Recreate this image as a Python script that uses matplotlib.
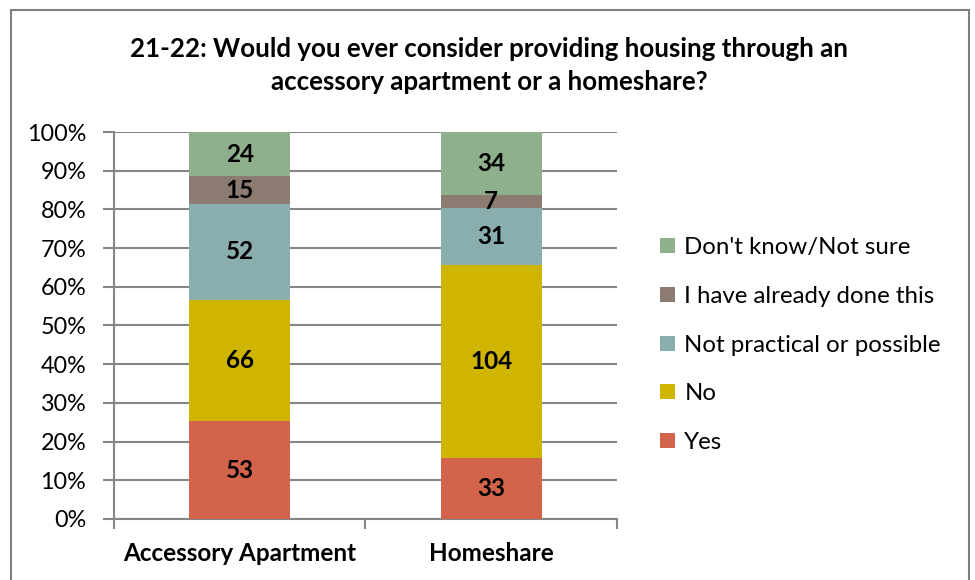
import matplotlib.pyplot as plt
from matplotlib.patches import Rectangle
import numpy as np

plt.rcParams['font.family'] = ['Lato', 'DejaVu Sans']

# survey counts per answer
categories = ['Accessory Apartment', 'Homeshare']
answers = ['Yes', 'No', 'Not practical or possible', 'I have already done this', "Don't know/Not sure"]
yes = [53, 33]
no = [66, 104]
not_practical = [52, 31]
already_done = [15, 7]
dont_know = [24, 34]
colors = ['#D3634A', '#CFB500', '#8AADAE', '#8C7B70', '#8FB08C']

series = np.array([yes, no, not_practical, already_done, dont_know], dtype=float)
totals = series.sum(axis=0)
shares = series / totals

fig = plt.figure(figsize=(9.75, 5.8), dpi=100)
# outer chart frame
fig.patches.append(Rectangle((0.011, -0.05), 0.983, 1.033, transform=fig.transFigure,
                             fill=False, edgecolor='#7f7f7f', linewidth=1.5))
ax = fig.add_axes([0.1169, 0.1052, 0.5159, 0.6672])

x = np.arange(len(categories))
bottom = np.zeros(len(categories))
bars = []
for i, name in enumerate(answers):
    b = ax.bar(x, shares[i], 0.4, bottom=bottom, color=colors[i], label=name, zorder=3)
    bars.append(b)
    for j in range(len(categories)):
        ax.text(x[j], bottom[j] + shares[i][j] / 2, '%d' % series[i][j], ha='center', va='center',
                fontsize=17.5, fontweight='bold', color='black', zorder=4)
    bottom += shares[i]

ax.set_xlim(-0.5, 1.5)
ax.set_ylim(0, 1)
ax.set_yticks(np.arange(0, 1.01, 0.1))
ax.set_yticklabels(['%d%%' % v for v in range(0, 101, 10)], fontsize=16.8)
ax.yaxis.grid(True, color='#868686', linewidth=1.5, zorder=0)
ax.tick_params(axis='y', length=8, width=1.5, color='#868686', pad=12)

# category ticks sit between the bars
ax.set_xticks([-0.5, 0.5, 1.5])
ax.set_xticklabels([])
ax.tick_params(axis='x', length=7, width=1.5, color='#868686', direction='out')
for j, c in enumerate(categories):
    ax.text(x[j], -0.09, c, ha='center', va='center', fontsize=17.5, fontweight='bold',
            transform=ax.transData)

for s in ['top', 'right']:
    ax.spines[s].set_visible(False)
for s in ['left', 'bottom']:
    ax.spines[s].set_color('#868686')
    ax.spines[s].set_linewidth(1.5)

fig.text(0.502, 0.887, '21-22: Would you ever consider providing housing through an\naccessory apartment or a homeshare?',
         ha='center', va='center', fontsize=18.6, fontweight='bold', linespacing=1.45)

handles = [bars[i] for i in range(len(answers) - 1, -1, -1)]
labels = [answers[i] for i in range(len(answers) - 1, -1, -1)]
fig.legend(handles, labels, loc='center left', bbox_to_anchor=(0.655, 0.405), frameon=False,
           fontsize=17.3, handlelength=0.6, handleheight=0.6, handletextpad=0.4, labelspacing=1.15)

fig.savefig('out.png', dpi=100)
